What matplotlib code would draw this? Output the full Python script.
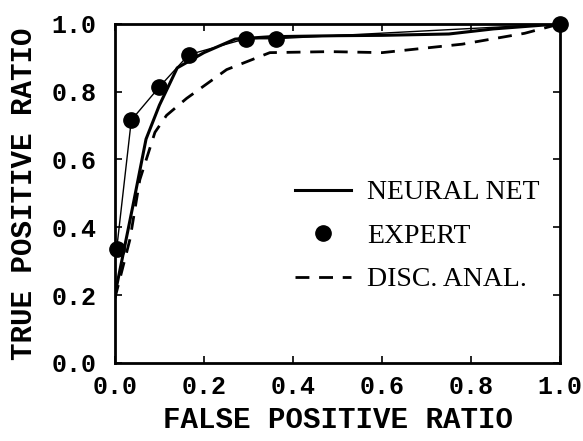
import matplotlib
matplotlib.use('Agg')
import matplotlib.pyplot as plt

# ROC curves
nn_fpr = [0.0, 0.02, 0.04, 0.07, 0.10, 0.14, 0.20, 0.27, 0.35, 0.50, 0.60, 0.75, 0.85, 1.0]
nn_tpr = [0.20, 0.33, 0.46, 0.66, 0.76, 0.87, 0.915, 0.955, 0.962, 0.965, 0.966, 0.97, 0.985, 1.0]

expert_fpr = [0.004, 0.037, 0.10, 0.166, 0.294, 0.361, 1.0]
expert_tpr = [0.335, 0.716, 0.814, 0.909, 0.956, 0.956, 1.0]

da_fpr = [0.0, 0.034, 0.056, 0.09, 0.116, 0.161, 0.251, 0.348, 0.483, 0.60, 0.78, 0.92, 1.0]
da_tpr = [0.19, 0.365, 0.54, 0.68, 0.73, 0.78, 0.865, 0.915, 0.918, 0.915, 0.94, 0.972, 1.0]

ticks = [0.0, 0.2, 0.4, 0.6, 0.8, 1.0]
tick_labels = ['0.0', '0.2', '0.4', '0.6', '0.8', '1.0']

fig = plt.figure(figsize=(5.83, 4.41), dpi=100)
ax = fig.add_axes([0.197, 0.177, 0.764, 0.769])

ax.plot(nn_fpr, nn_tpr, color='black', linewidth=2.2, label='NEURAL NET')
ax.plot(expert_fpr, expert_tpr, color='black', linewidth=1.0)
ax.plot(expert_fpr, expert_tpr, 'o', color='black', markersize=11, label='EXPERT', clip_on=False)
ax.plot(da_fpr, da_tpr, color='black', linewidth=2.0, dashes=(5, 3.5), label='DISC. ANAL.')

ax.set_xlim(0, 1)
ax.set_ylim(0, 1)
ax.set_xticks(ticks)
ax.set_yticks(ticks)
ax.set_xticklabels(tick_labels, family='Liberation Mono', weight='bold', fontsize=18)
ax.set_yticklabels(tick_labels, family='Liberation Mono', weight='bold', fontsize=18)
ax.tick_params(axis='both', direction='in', length=5, width=1.2,
               top=True, right=True)
ax.tick_params(axis='x', pad=9)
ax.tick_params(axis='y', pad=13)
for s in ax.spines.values():
    s.set_linewidth(2)

ax.set_xlabel('FALSE POSITIVE RATIO', family='Liberation Mono', weight='bold', fontsize=21, labelpad=5)
ax.set_ylabel('TRUE POSITIVE RATIO', family='Liberation Mono', weight='bold', fontsize=21, labelpad=10)

leg = ax.legend(loc='upper left', bbox_to_anchor=(0.405, 0.54), frameon=False,
                borderaxespad=0, borderpad=0, handlelength=2.0, handletextpad=0.6,
                labelspacing=0.65, prop={'family': 'Liberation Serif', 'size': 20})

plt.savefig('out.png', dpi=100)
